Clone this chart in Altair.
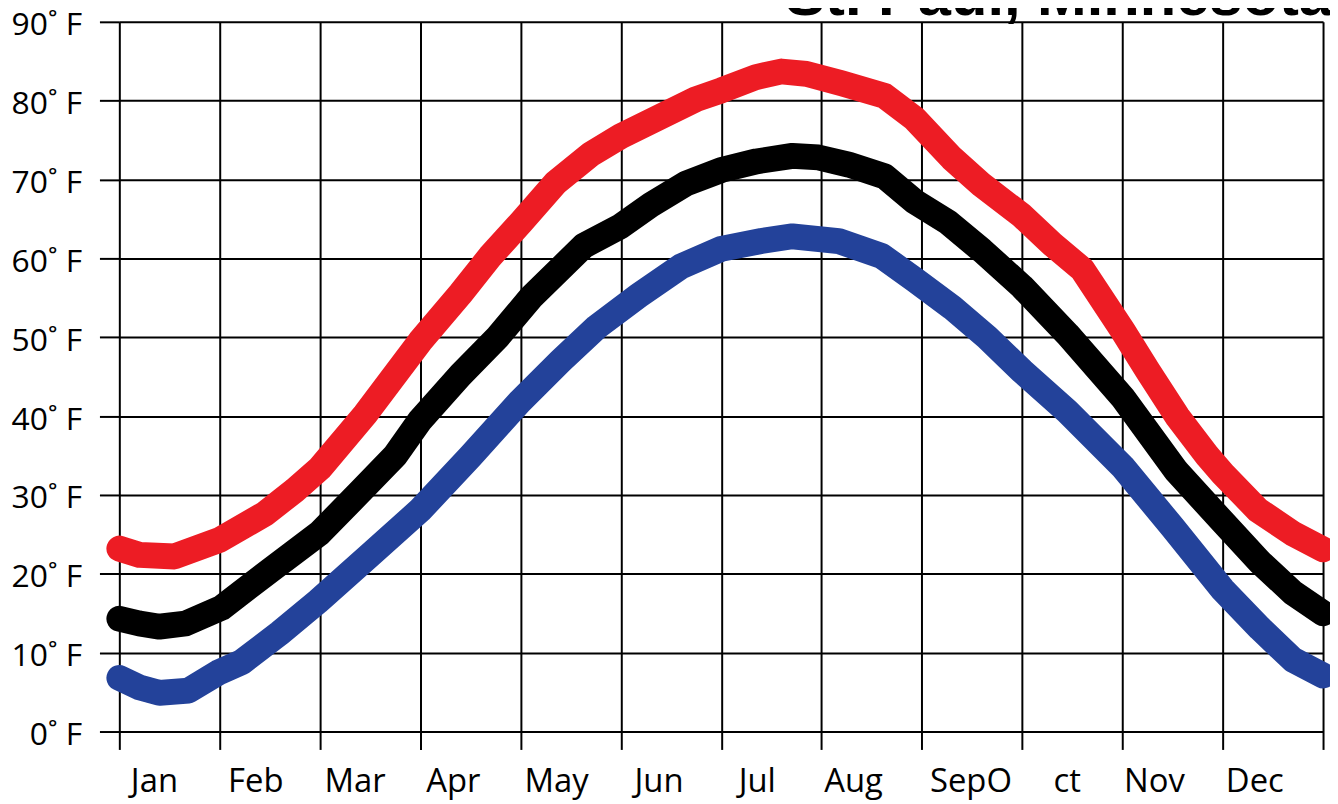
import altair as alt
import pandas as pd

# ---- data ----
title_text = "St. Paul, Minnesota"

month_labels = ["Jan", "Feb", "Mar", "Apr", "May", "Jun", "Jul", "Aug", "SepO", "ct", "Nov", "Dec"]
label_pos = [0.35, 1.36, 2.35, 3.33, 4.36, 5.38, 6.36, 7.32, 8.49, 9.45, 10.32, 11.32]

red_x = [0.00, 0.20, 0.55, 1.00, 1.45, 1.75, 2.00, 2.45, 3.00, 3.40, 3.70, 4.00, 4.35, 4.70,
         5.00, 5.40, 5.75, 6.00, 6.35, 6.60, 6.85, 7.20, 7.63, 7.93, 8.30, 8.60, 9.00, 9.30,
         9.60, 10.00, 10.25, 10.55, 10.85, 11.00, 11.35, 11.70, 12.00]
red_y = [23.2, 22.4, 22.2, 24.3, 27.6, 30.6, 33.4, 40.2, 49.5, 55.5, 60.3, 64.5, 69.6, 73.2,
         75.5, 78.0, 80.2, 81.3, 83.0, 83.7, 83.4, 82.2, 80.6, 77.7, 72.7, 69.3, 65.4, 61.8,
         58.6, 50.9, 45.8, 39.9, 34.9, 32.7, 28.1, 25.1, 23.1]

black_x = [0.00, 0.20, 0.40, 0.66, 1.02, 1.50, 2.00, 2.40, 2.75, 3.00, 3.40, 3.77, 4.10, 4.63,
           5.00, 5.30, 5.65, 6.00, 6.35, 6.71, 6.97, 7.27, 7.63, 7.93, 8.26, 8.60, 9.00, 9.45,
           10.00, 10.54, 11.00, 11.37, 11.70, 12.00]
black_y = [14.3, 13.7, 13.3, 13.7, 15.7, 20.4, 25.2, 30.4, 35.0, 39.5, 45.2, 50.0, 55.0, 61.6,
           64.1, 66.8, 69.5, 71.2, 72.3, 73.0, 72.8, 71.9, 70.4, 67.2, 64.6, 61.0, 56.4, 50.4,
           42.4, 33.0, 26.6, 21.5, 17.6, 15.0]

blue_x = [0.00, 0.20, 0.40, 0.69, 0.99, 1.22, 1.60, 1.98, 2.50, 3.00, 3.50, 3.99, 4.40, 4.76,
          5.18, 5.60, 6.00, 6.40, 6.71, 7.17, 7.60, 7.93, 8.30, 8.65, 9.00, 9.45, 10.00, 10.50,
          11.00, 11.37, 11.70, 12.00]
blue_y = [6.8, 5.6, 4.9, 5.2, 7.5, 8.8, 12.5, 16.5, 22.4, 28.1, 34.9, 41.8, 47.0, 51.3,
          55.3, 59.0, 61.2, 62.2, 62.8, 62.2, 60.3, 57.3, 53.8, 50.0, 45.7, 40.6, 33.6, 25.9,
          18.0, 13.1, 9.1, 7.1]

series_names = ["High", "Mean", "Low"]
series_colors = ["#ED1C24", "#000000", "#23429A"]

rows = []
for name, xs, ys in [("High", red_x, red_y), ("Mean", black_x, black_y), ("Low", blue_x, blue_y)]:
    for i, (a, b) in enumerate(zip(xs, ys)):
        rows.append({"series": name, "month": a, "temp": b, "order": i})
df = pd.DataFrame(rows)

x_scale = alt.Scale(domain=[0, 12], nice=False, zero=False)
y_scale = alt.Scale(domain=[0, 90], nice=False)

x_axis = alt.Axis(values=list(range(0, 13)), labels=False, title=None, domain=False,
                  tickSize=18, tickWidth=2, tickColor="black",
                  grid=True, gridColor="black", gridWidth=2, gridOpacity=1)

lines = alt.Chart(df).mark_line(strokeWidth=26, strokeCap="round", strokeJoin="round").encode(
    x=alt.X("month:Q", scale=x_scale, axis=x_axis),
    y=alt.Y("temp:Q", scale=y_scale,
            axis=alt.Axis(values=list(range(0, 100, 10)), labelExpr="datum.value + '˚ F'",
                          title=None, domain=False, tickSize=20, tickWidth=2, tickColor="black",
                          grid=True, gridColor="black", gridWidth=2, gridOpacity=1,
                          labelFont="Open Sans", labelFontSize=32, labelColor="black",
                          labelPadding=18, labelOffset=3)),
    color=alt.Color("series:N", scale=alt.Scale(domain=series_names, range=series_colors), legend=None),
    detail="series:N",
    order="order:Q",
)

labels = alt.Chart(pd.DataFrame({"lab": month_labels, "pos": label_pos})).mark_text(
    font="Open Sans", fontSize=33, color="black", align="center", baseline="alphabetic"
).encode(
    x=alt.X("pos:Q", scale=x_scale, axis=x_axis),
    y=alt.value(774.5),
    text="lab:N",
)

title = alt.Chart(pd.DataFrame({"t": [title_text]})).mark_text(
    font="Liberation Sans", fontSize=60, fontWeight="bold", color="black",
    align="left", baseline="alphabetic"
).encode(
    x=alt.value(670),
    y=alt.value(-6.5),
    text="t:N",
)

chart = alt.layer(lines, labels, title).properties(
    width=1211, height=714,
    autosize=alt.AutoSizeParams(type="none"),
    padding={"left": 112, "top": 11.5, "right": 7, "bottom": 70},
    background="white",
).configure_view(stroke=None)

chart.save("out.html", embed_options={"renderer": "svg", "actions": False})
